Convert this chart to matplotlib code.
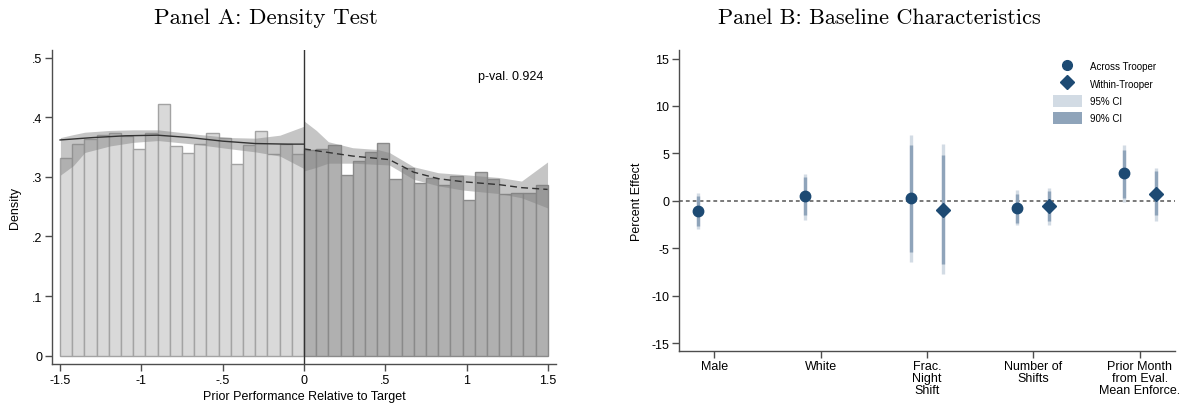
import matplotlib
matplotlib.use("Agg")
import matplotlib.pyplot as plt
import numpy as np
from matplotlib.lines import Line2D
from matplotlib.patches import Patch

plt.rcParams['font.family'] = ['Liberation Sans', 'DejaVu Sans']
plt.rcParams['axes.unicode_minus'] = False

# Panel A: histogram of prior performance (40 bins on [-1.5, 1.5])
bin_lo, bin_hi, n_bins = -1.5, 1.5, 40
hist_left = [0.331, 0.356, 0.363, 0.370, 0.374, 0.368, 0.346, 0.374, 0.422, 0.352,
             0.340, 0.356, 0.373, 0.365, 0.321, 0.353, 0.377, 0.339, 0.356, 0.338]
hist_right = [0.345, 0.346, 0.353, 0.303, 0.326, 0.341, 0.357, 0.296, 0.315, 0.289,
              0.299, 0.287, 0.301, 0.262, 0.309, 0.296, 0.272, 0.273, 0.273, 0.286]

# local density fits and their confidence bands
fit_left_x = [-1.5, -1.3, -1.1, -0.9, -0.7, -0.5, -0.3, -0.1, 0.0]
fit_left_y = [0.362, 0.366, 0.369, 0.370, 0.366, 0.360, 0.356, 0.355, 0.355]
band_left_x = [-1.498, -1.418, -1.348, -1.192, -1.049, -0.897, -0.674, -0.449, -0.299, -0.148, 0.0]
band_left_hi = [0.366, 0.371, 0.375, 0.378, 0.379, 0.379, 0.372, 0.366, 0.365, 0.370, 0.385]
band_left_lo = [0.303, 0.319, 0.341, 0.352, 0.358, 0.361, 0.355, 0.347, 0.342, 0.335, 0.314]

fit_right_x = [0.0, 0.15, 0.299, 0.451, 0.525, 0.674, 0.826, 0.975, 1.2, 1.338, 1.498]
fit_right_y = [0.347, 0.341, 0.335, 0.331, 0.329, 0.308, 0.297, 0.292, 0.287, 0.282, 0.279]
band_right_x = [0.0, 0.076, 0.15, 0.299, 0.451, 0.525, 0.674, 0.826, 0.975, 1.2, 1.338, 1.498]
band_right_hi = [0.394, 0.378, 0.359, 0.349, 0.346, 0.341, 0.317, 0.307, 0.304, 0.299, 0.293, 0.325]
band_right_lo = [0.310, 0.316, 0.323, 0.323, 0.321, 0.320, 0.296, 0.285, 0.278, 0.272, 0.265, 0.248]
p_value = 0.924

# Panel B: balance estimates
categories = ['Male', 'White', 'Frac.\nNight\nShift', 'Number of\nShifts',
              'Prior Month\nfrom Eval.\nMean Enforce.']
across_est = [-1.1, 0.5, 0.25, -0.78, 2.9]
across_90 = [(-2.7, 0.55), (-1.5, 2.5), (-5.4, 5.85), (-2.3, 0.75), (0.35, 5.4)]
across_95 = [(-3.0, 0.85), (-2.0, 2.85), (-6.5, 6.9), (-2.6, 1.1), (-0.15, 5.85)]
within_idx = [2, 3, 4]
within_est = [-0.95, -0.57, 0.75]
within_90 = [(-6.65, 4.8), (-2.15, 1.0), (-1.5, 3.1)]
within_95 = [(-7.7, 5.95), (-2.5, 1.3), (-2.1, 3.5)]

navy = '#1d4a73'
ci90_col = '#8fa4ba'
ci95_col = '#d2dbe4'
spine_col = '#4d4d4d'

fig = plt.figure(figsize=(11.86, 4.06), dpi=100)

# ---------- Panel A ----------
ax1 = fig.add_axes([0.0438, 0.101, 0.425, 0.7734])
edges = np.linspace(bin_lo, bin_hi, n_bins + 1)
width = edges[1] - edges[0]
centers = (edges[:-1] + edges[1:]) / 2
half = n_bins // 2
ax1.bar(centers[:half], hist_left, width=width, color='#d9d9d9',
        edgecolor='#a3a3a3', linewidth=1.0, zorder=1)
ax1.bar(centers[half:], hist_right, width=width, color='#b0b0b0',
        edgecolor='#8a8a8a', linewidth=1.0, zorder=1)
ax1.fill_between(band_left_x, band_left_lo, band_left_hi, color='#7f7f7f',
                 alpha=0.45, linewidth=0, zorder=2)
ax1.fill_between(band_right_x, band_right_lo, band_right_hi, color='#7f7f7f',
                 alpha=0.45, linewidth=0, zorder=2)
ax1.plot(fit_left_x, fit_left_y, color='#333333', lw=1.0, zorder=3)
ax1.plot(fit_right_x, fit_right_y, color='#333333', lw=1.0, ls=(0, (5, 3)), zorder=3)
ax1.axvline(0, color='#333333', lw=1.0, zorder=4)
ax1.text(1.47, 0.47, f'p-val. {p_value}', ha='right', va='center', fontsize=9)

ax1.set_xlim(-1.55, 1.55)
ax1.set_ylim(-0.014, 0.513)
ax1.set_xticks([-1.5, -1, -0.5, 0, 0.5, 1, 1.5])
ax1.set_xticklabels(['-1.5', '-1', '-.5', '0', '.5', '1', '1.5'])
ax1.set_yticks([0, 0.1, 0.2, 0.3, 0.4, 0.5])
ax1.set_yticklabels(['0', '.1', '.2', '.3', '.4', '.5'])
ax1.set_xlabel('Prior Performance Relative to Target', fontsize=9, labelpad=3)
ax1.set_ylabel('Density', fontsize=9, labelpad=8)

# ---------- Panel B ----------
ax2 = fig.add_axes([0.5725, 0.1337, 0.4182, 0.7407])
pos = np.arange(1, len(categories) + 1)
off = 0.15
ax2.axhline(0, color='#555555', lw=1.1, ls=(0, (2.5, 2)), zorder=1)
for i in range(len(categories)):
    x = pos[i] - off
    ax2.vlines(x, *across_95[i], color=ci95_col, lw=2.4, zorder=2)
    ax2.vlines(x, *across_90[i], color=ci90_col, lw=2.4, zorder=3)
for j, i in enumerate(within_idx):
    x = pos[i] + off
    ax2.vlines(x, *within_95[j], color=ci95_col, lw=2.4, zorder=2)
    ax2.vlines(x, *within_90[j], color=ci90_col, lw=2.4, zorder=3)
ax2.plot(pos - off, across_est, 'o', color=navy, ms=7.5, ls='none', zorder=4)
ax2.plot(pos[within_idx] + off, within_est, 'D', color=navy, ms=7, ls='none', zorder=4)

ax2.set_xlim(0.67, 5.33)
ax2.set_ylim(-15.8, 15.9)
ax2.set_xticks(pos)
ax2.set_xticklabels(categories, linespacing=0.95)
ax2.set_yticks([-15, -10, -5, 0, 5, 10, 15])
ax2.set_ylabel('Percent Effect', fontsize=9, labelpad=6)

handles = [
    Line2D([], [], marker='o', color=navy, ls='none', ms=7),
    Line2D([], [], marker='D', color=navy, ls='none', ms=7),
    Patch(facecolor=ci95_col, edgecolor='none'),
    Patch(facecolor=ci90_col, edgecolor='none'),
]
ax2.legend(handles, ['Across Trooper', 'Within-Trooper', '95% CI', '90% CI'],
           loc='upper right', bbox_to_anchor=(0.975, 0.99), frameon=False,
           fontsize=7, handlelength=3.0, handleheight=1.6, labelspacing=0.5,
           handletextpad=0.8, borderpad=0.2)

for ax in (ax1, ax2):
    for side in ('top', 'right'):
        ax.spines[side].set_visible(False)
    for side in ('left', 'bottom'):
        ax.spines[side].set_color(spine_col)
        ax.spines[side].set_linewidth(1.0)
    ax.tick_params(axis='both', labelsize=9, length=5, width=1.0,
                   color=spine_col, direction='out', pad=2)

# panel titles
fig.text(266 / 1186, 1 - 18 / 406, 'Panel A: Density Test', ha='center',
         va='center', fontsize=16.5, family='cmr10')
fig.text(879 / 1186, 1 - 18 / 406, 'Panel B: Baseline Characteristics',
         ha='center', va='center', fontsize=16, family='cmr10')

fig.savefig('out.png', dpi=100)
plt.close(fig)
